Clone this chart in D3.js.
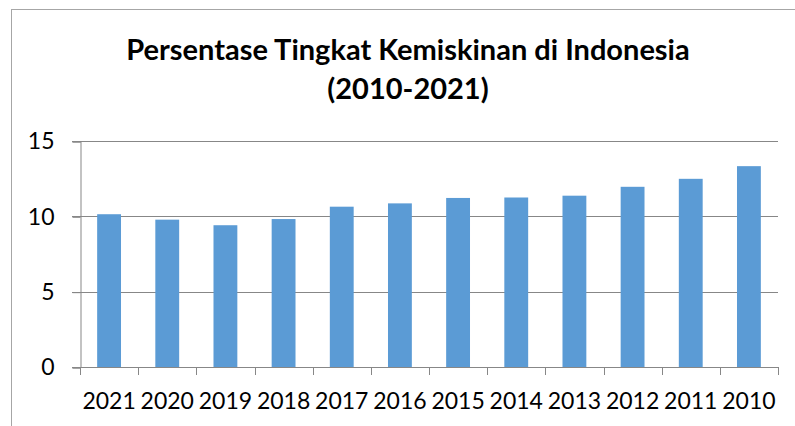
<!DOCTYPE html>
<html>
<head>
<meta charset="utf-8">
<script src="https://cdn.jsdelivr.net/npm/d3@7"></script>
<style>
  body { margin: 0; background: #fff; }
  text { font-family: Lato, "Open Sans", sans-serif; fill: #000; }
</style>
</head>
<body>
<script>
var w = 795;
var h = 426;

// data
var years = ["2021", "2020", "2019", "2018", "2017", "2016", "2015", "2014", "2013", "2012", "2011", "2010"];
var poverty = [10.14, 9.78, 9.41, 9.82, 10.64, 10.86, 11.22, 11.25, 11.37, 11.96, 12.49, 13.33];
var yTicks = [0, 5, 10, 15];
var titleLines = ["Persentase Tingkat Kemiskinan di Indonesia", "(2010-2021)"];

var plotLeft = 80, plotRight = 778, plotTop = 141, plotBottom = 367;
var gridColor = "#878787";

var svg = d3.select("body").append("svg").attr("width", w).attr("height", h);

// chart border
svg.append("rect")
  .attr("x", 11.5).attr("y", 9.5)
  .attr("width", 900).attr("height", 600)
  .attr("fill", "none")
  .attr("stroke", "#a6a6a6");

// title
svg.append("g")
  .selectAll("text")
  .data(titleLines)
  .enter()
  .append("text")
  .attr("x", 408)
  .attr("y", function (d, i) { return 60 + i * 39; })
  .attr("text-anchor", "middle")
  .attr("font-size", 29)
  .attr("font-weight", "bold")
  .text(function (d) { return d; });

// scales
var xScale = d3.scaleBand().domain(years).range([plotLeft, plotRight]).paddingInner(0.59).paddingOuter(0.295);
var yScale = d3.scaleLinear().domain([0, 15]).range([plotBottom, plotTop]);

// gridlines
svg.append("g")
  .selectAll("line")
  .data(yTicks.filter(function (d) { return d > 0; }))
  .enter()
  .append("line")
  .attr("x1", plotLeft - 8)
  .attr("x2", plotRight)
  .attr("y1", function (d) { return Math.round(yScale(d)) + 0.5; })
  .attr("y2", function (d) { return Math.round(yScale(d)) + 0.5; })
  .attr("stroke", gridColor);

// bars
svg.append("g")
  .selectAll("rect")
  .data(poverty)
  .enter()
  .append("rect")
  .attr("x", function (d, i) { return xScale(years[i]); })
  .attr("y", function (d) { return yScale(d); })
  .attr("width", xScale.bandwidth())
  .attr("height", function (d) { return plotBottom - yScale(d); })
  .attr("fill", "#5b9bd5");

// y axis
var yAxis = d3.axisLeft(yScale).tickValues(yTicks).tickSize(8).tickPadding(18);
var gy = svg.append("g")
  .attr("transform", "translate(" + (plotLeft + 0.5) + ",0.5)")
  .call(yAxis);
gy.selectAll("path, line").attr("stroke", gridColor);
gy.selectAll("text").attr("font-size", 23).attr("font-family", "Lato, sans-serif").attr("fill", "#000");

// x axis with ticks at category boundaries
var bounds = d3.range(years.length + 1).map(function (i) { return plotLeft + i * (plotRight - plotLeft) / years.length; });
var gx = svg.append("g");
gx.append("line")
  .attr("x1", plotLeft - 8).attr("x2", plotRight)
  .attr("y1", plotBottom + 0.5).attr("y2", plotBottom + 0.5)
  .attr("stroke", gridColor);
gx.selectAll(".tk")
  .data(bounds)
  .enter()
  .append("line")
  .attr("class", "tk")
  .attr("x1", function (d) { return Math.round(d) + 0.5; })
  .attr("x2", function (d) { return Math.round(d) + 0.5; })
  .attr("y1", plotBottom).attr("y2", plotBottom + 8)
  .attr("stroke", gridColor);
gx.selectAll(".lbl")
  .data(years)
  .enter()
  .append("text")
  .attr("class", "lbl")
  .attr("x", function (d) { return xScale(d) + xScale.bandwidth() / 2; })
  .attr("y", 409)
  .attr("text-anchor", "middle")
  .attr("font-size", 23)
  .text(function (d) { return d; });
</script>
</body>
</html>
